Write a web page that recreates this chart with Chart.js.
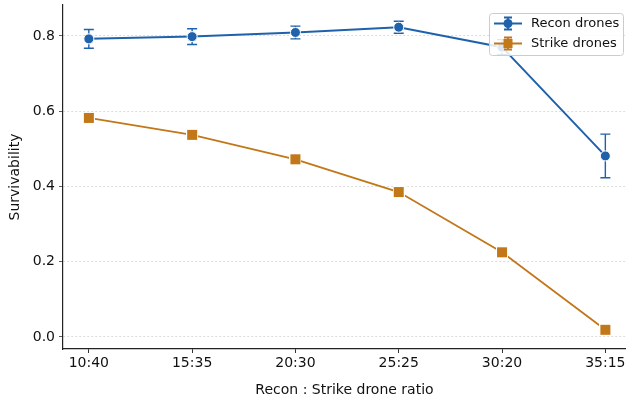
<!DOCTYPE html>
<html>
<head>
<meta charset="utf-8">
<script src="https://cdn.jsdelivr.net/npm/chart.js@4.4.1/dist/chart.umd.min.js"></script>
<style>
  html, body { margin: 0; padding: 0; background: #fff; overflow: hidden; }
  #wrap { width: 626px; height: 399px; }
</style>
</head>
<body>
<div id="wrap"><canvas id="myChart" width="626" height="399"></canvas></div>
<script>
// Data
const ratios = ['10:40', '15:35', '20:30', '25:25', '30:20', '35:15'];
const reconMean = [0.792, 0.798, 0.809, 0.823, 0.770, 0.481];
const reconErr = [0.025, 0.021, 0.017, 0.016, 0.020, 0.058];
const strikeMean = [0.582, 0.537, 0.472, 0.385, 0.225, 0.019];
const strikeErr = [0.004, 0.004, 0.004, 0.004, 0.004, 0.004];
const yTicks = [0.0, 0.2, 0.4, 0.6, 0.8];

const BLUE = '#1f62ab';
const ORANGE = '#c27718';
const TEXT = '#111111';
const FONT = 'DejaVu Sans';

function toPoints(vals) {
  return vals.map((v, i) => ({ x: i, y: v }));
}

// square marker with white edge, drawn to a small canvas
function squareMarker(color) {
  let c = document.createElement('canvas');
  c.width = 12; c.height = 12;
  let g = c.getContext('2d');
  g.fillStyle = '#fff';
  g.fillRect(0, 0, 12, 12);
  g.fillStyle = color;
  g.fillRect(1, 1, 10, 10);
  return c;
}

// no extra label padding, the plot area runs to the edges
function noPad(axis) {
  axis.paddingTop = 0;
  axis.paddingBottom = 0;
  axis.paddingLeft = 0;
  axis.paddingRight = 0;
}

// error bars, drawn under the markers
const errorBars = {
  id: 'errorBars',
  beforeDatasetsDraw(chart) {
    let ctx = chart.ctx;
    let xs = chart.scales.x, ys = chart.scales.y;
    chart.data.datasets.forEach(ds => {
      ctx.save();
      ctx.strokeStyle = ds.borderColor;
      ctx.lineWidth = 1.4;
      ds.errors.forEach((e, i) => {
        let px = xs.getPixelForValue(i);
        let top = ys.getPixelForValue(ds.data[i].y + e);
        let bot = ys.getPixelForValue(ds.data[i].y - e);
        ctx.beginPath();
        ctx.moveTo(px, top); ctx.lineTo(px, bot);
        ctx.moveTo(px - 5, top); ctx.lineTo(px + 5, top);
        ctx.moveTo(px - 5, bot); ctx.lineTo(px + 5, bot);
        ctx.stroke();
      });
      ctx.restore();
    });
  }
};

// legend box in the top right, matplotlib style
const boxLegend = {
  id: 'boxLegend',
  afterDraw(chart) {
    let ctx = chart.ctx;
    let x0 = 489, y0 = 13, w = 134, h = 42;
    ctx.save();
    ctx.fillStyle = 'rgba(255,255,255,0.85)';
    ctx.strokeStyle = '#cccccc';
    ctx.lineWidth = 1;
    ctx.beginPath();
    ctx.roundRect(x0 + 0.5, y0 + 0.5, w, h, 3);
    ctx.fill();
    ctx.stroke();
    chart.data.datasets.forEach((ds, k) => {
      let cy = y0 + 10.5 + k * 20;
      let cx = 508;
      ctx.strokeStyle = ds.borderColor;
      ctx.lineWidth = 1.8;
      ctx.beginPath();
      ctx.moveTo(cx - 14, cy); ctx.lineTo(cx + 14, cy);
      ctx.moveTo(cx, cy - 6); ctx.lineTo(cx, cy + 6);
      ctx.moveTo(cx - 4, cy - 6); ctx.lineTo(cx + 4, cy - 6);
      ctx.moveTo(cx - 4, cy + 6); ctx.lineTo(cx + 4, cy + 6);
      ctx.stroke();
      ctx.fillStyle = ds.borderColor;
      if (k === 0) {
        ctx.beginPath();
        ctx.arc(cx, cy, 4.5, 0, Math.PI * 2);
        ctx.fill();
      } else {
        ctx.fillRect(cx - 4.5, cy - 4.5, 9, 9);
      }
      ctx.fillStyle = TEXT;
      ctx.font = '13px "' + FONT + '"';
      ctx.textBaseline = 'middle';
      ctx.fillText(ds.label, 531, cy + 0.5);
    });
    ctx.restore();
  }
};

const ctx = document.getElementById('myChart').getContext('2d');
const myChart = new Chart(ctx, {
  type: 'line',
  data: {
    datasets: [
      {
        label: 'Recon drones',
        data: toPoints(reconMean),
        errors: reconErr,
        borderColor: BLUE,
        backgroundColor: BLUE,
        borderWidth: 2,
        pointStyle: 'circle',
        pointRadius: 5,
        pointBorderColor: '#fff',
        pointBorderWidth: 1,
        tension: 0
      },
      {
        label: 'Strike drones',
        data: toPoints(strikeMean),
        errors: strikeErr,
        borderColor: ORANGE,
        backgroundColor: ORANGE,
        borderWidth: 1.8,
        pointStyle: squareMarker(ORANGE),
        pointRadius: 6,
        tension: 0
      }
    ]
  },
  options: {
    responsive: false,
    animation: false,
    devicePixelRatio: 1,
    layout: { autoPadding: false, padding: { top: 5, right: 0, left: 0, bottom: 0 } },
    plugins: {
      legend: { display: false },
      tooltip: { enabled: false }
    },
    scales: {
      x: {
        type: 'linear',
        min: -0.25,
        max: 5.2,
        afterBuildTicks(axis) {
          axis.ticks = ratios.map((r, i) => ({ value: i }));
        },
        afterFit(axis) { axis.height = 50; noPad(axis); },
        ticks: {
          callback: (v) => ratios[v],
          color: TEXT,
          font: { family: FONT, size: 14 },
          padding: 2,
          maxRotation: 0,
          autoSkip: false
        },
        grid: {
          drawOnChartArea: false,
          drawTicks: true,
          tickLength: 4,
          tickColor: '#333'
        },
        border: { color: '#222', width: 1.2 },
        title: {
          display: true,
          text: 'Recon : Strike drone ratio',
          color: TEXT,
          font: { family: FONT, size: 14 },
          padding: { top: 4, bottom: 0 }
        }
      },
      y: {
        min: -0.032,
        max: 0.882,
        afterBuildTicks(axis) {
          axis.ticks = yTicks.map(v => ({ value: v }));
        },
        afterFit(axis) { axis.width = 63; noPad(axis); },
        ticks: {
          callback: (v) => v.toFixed(1),
          color: TEXT,
          font: { family: FONT, size: 14 },
          padding: 4
        },
        grid: {
          color: '#d4d4d4',
          lineWidth: 0.8,
          tickLength: 4,
          tickColor: '#333',
          tickBorderDash: []
        },
        // in v4 border.dash sets the dash of the grid lines
        border: { color: '#222', width: 1.2, dash: [2, 2] },
        title: {
          display: true,
          text: 'Survivability',
          color: TEXT,
          font: { family: FONT, size: 14 },
          padding: { top: 7, bottom: 2 }
        }
      }
    }
  },
  plugins: [errorBars, boxLegend]
});
</script>
</body>
</html>
